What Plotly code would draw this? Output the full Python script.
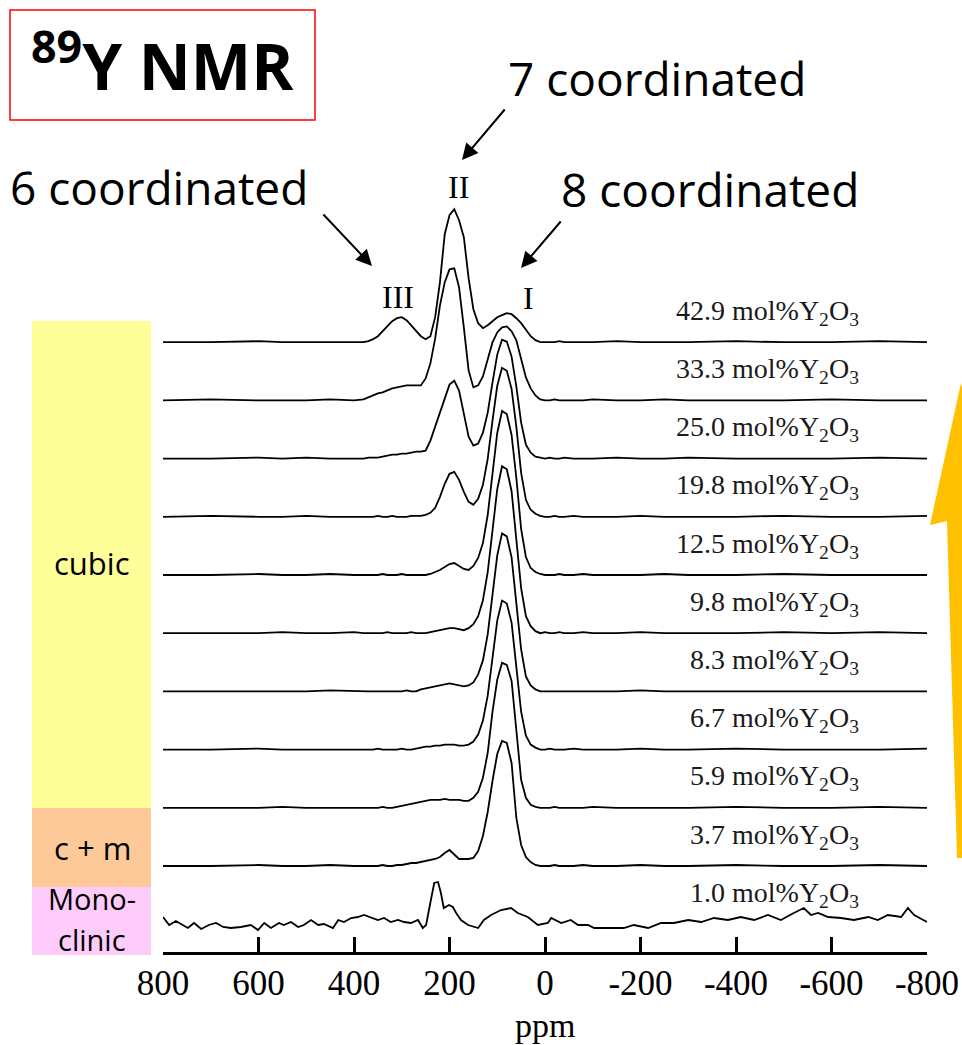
import plotly.graph_objects as go

# ---------------- data ----------------
PPM = [800, 700, 600, 550, 500, 450, 400, 380, 370,
       360, 350, 340, 330, 320, 310, 300, 290, 280, 270, 260, 250,
       240, 230, 220, 210, 200, 190, 180, 170, 160, 150, 140, 130, 120, 110,
       100, 90, 80, 70, 60, 50, 40, 30, 20, 10,
       0, -10, -20, -30, -40,
       -60, -80, -100, -150, -200, -250, -300, -400, -500, -600, -700, -800]

Y_42_9 = [0, 0, 1, 0, 0, 0, 0, 0, 1,
          3, 6, 11, 16, 21, 24, 25, 22, 17, 11, 6, 3,
          6, 25, 60, 108, 127, 133, 122, 105, 64, 33, 19, 14, 17, 21, 25, 27, 29, 28, 24, 19, 13, 6, 2, 0,
          0, 0, 0, 1, 0,
          0, 0, 0, 1, 0, 0, 0, 1, 0, 0, 1, 0]
Y_33_3 = [0, 1, 0, 0, 0, 1, 0, 1, 3,
          5, 7, 8, 10, 12, 13, 14, 15, 15, 15, 15, 22,
          37, 62, 95, 118, 131, 132, 113, 73, 30, 13, 15, 24, 40, 58, 68, 73, 74, 69, 60, 42, 23, 12, 5, 1,
          0, 0, 1, 0, 0,
          0, 0, 1, 0, 0, 1, 0, 0, 0, 1, 0, 0]
Y_25_0 = [0, 0, 1, 0, 1, 0, 0, 0, 1,
          1, 1, 2, 3, 4, 4, 5, 5, 6, 7, 7, 8,
          18, 32, 47, 62, 74, 78, 68, 45, 22, 13, 15, 26, 46, 76, 104, 119, 117, 102, 72, 36, 14, 6, 2, 1,
          0, 1, 0, 0, 1,
          0, 0, 0, 1, 0, 0, 1, 0, 0, 0, 1, 0]
Y_19_8 = [0, 1, 0, 0, 1, 0, 0, 0, 0,
          0, 1, 0, 0, 1, 0, 0, 0, 1, 1, 1, 2,
          4, 9, 20, 33, 43, 45, 37, 25, 15, 12, 18, 32, 58, 96, 131, 149, 146, 128, 90, 44, 17, 7, 3, 1,
          0, 0, 1, 0, 0,
          1, 0, 0, 0, 1, 0, 0, 0, 1, 0, 0, 1]
Y_12_5 = [0, 0, 1, 0, 0, 1, 0, 0, 0,
          0, 0, 1, 0, 0, 0, 1, 0, 0, 0, 0, 0,
          1, 3, 5, 8, 11, 12, 9, 6, 5, 9, 17, 32, 60, 102, 142, 164, 161, 140, 97, 46, 18, 7, 3, 1,
          0, 0, 0, 1, 0,
          0, 1, 0, 0, 0, 1, 0, 0, 1, 0, 0, 0]
Y_9_8 = [0, 0, 0, 1, 0, 0, 1, 0, 0,
         0, 0, 0, 1, 0, 0, 0, 0, 1, 0, 0, 0,
         1, 2, 3, 4, 5, 5, 4, 3, 5, 9, 17, 33, 61, 104, 144, 167, 164, 142, 97, 45, 17, 7, 2, 0,
         1, 0, 0, 1, 0,
         0, 1, 0, 0, 1, 0, 0, 0, 1, 0, 1, 0]
Y_8_3 = [0, 0, 0, 0, 0, 1, 0, 0, 0,
         0, 0, 0, 0, 0, 0, 0, 1, 0, 0, 2, 3,
         4, 5, 6, 7, 8, 7, 6, 5, 6, 9, 17, 31, 57, 98, 136, 158, 155, 134, 90, 42, 15, 6, 2, 0,
         0, 0, 0, 0, 0,
         0, 0, 0, 0, 1, 0, 0, 0, 0, 0, 0, 0]
Y_6_7 = [0, 0, 1, 0, 0, 0, 0, 0, 0,
         0, 1, 0, 0, 0, 0, 1, 0, 0, 1, 2, 3,
         3, 4, 4, 5, 5, 5, 4, 4, 5, 8, 15, 29, 54, 93, 129, 149, 146, 127, 84, 38, 14, 5, 2, 0,
         0, 1, 0, 0, 0,
         1, 0, 0, 0, 1, 0, 0, 1, 0, 0, 0, 1]
Y_5_9 = [0, 0, 0, 1, 0, 0, 0, 0, 0,
         0, 0, 1, 0, 0, 1, 2, 3, 4, 5, 6, 7,
         8, 8, 8, 9, 8, 8, 8, 7, 7, 10, 16, 30, 55, 96, 128, 145, 143, 127, 78, 28, 10, 3, 1, 0,
         0, 0, 1, 0, 0,
         0, 0, 1, 0, 0, 0, 0, 1, 0, 0, 1, 0]
Y_3_7 = [0, 0, 1, 0, 0, 1, 0, 0, 0,
         0, 0, 1, 0, 0, 1, 1, 2, 3, 3, 4, 5,
         6, 7, 9, 13, 16, 11, 7, 7, 7, 8, 15, 30, 54, 85, 112, 125, 123, 103, 48, 21, 9, 4, 1, 0,
         0, 0, 1, 0, 0,
         0, 1, 0, 0, 1, 0, 0, 1, 0, 0, 1, 0]

PPM_1_0 = [800, 787, 773, 758, 748, 735, 720, 704, 689, 674,
           658, 637, 616, 601, 588, 574, 557, 547, 532, 517,
           505, 490, 475, 463, 444, 433, 421, 406, 392, 379,
           364, 350, 337, 323, 308, 295, 281, 266, 256, 249,
           239, 232, 224, 218, 212, 201, 193, 186, 176, 161,
           140, 128, 113, 92, 71, 57, 36, 15, -6, -13,
           -34, -54, -69, -90, -103, -132, -165, -186, -216, -243,
           -270, -300, -327, -354, -383, -410, -438, -467, -494, -521,
           -542, -557, -572, -593, -620, -647, -677, -697, -718, -746,
           -760, -773, -794, -800]
Y_1_0 = [7, -1, 3, -1, -4, 1, -5, -1, 1, -3,
         -4, -3, -1, -6, 1, -4, 1, -1, 2, -3,
         -1, 4, -1, 0, -4, 4, 2, 6, 7, 9,
         6, 4, 6, 2, 4, 2, 1, 4, -4, -1,
         24, 41, 42, 31, 16, 19, 17, 11, 4, -1,
         -4, 4, 9, 14, 16, 11, 7, -1, 1, 6,
         1, 4, -1, -1, -4, -4, -4, -1, -4, 1,
         1, 4, 2, 6, 4, 7, 4, 9, 4, 11,
         16, 9, 11, 7, 6, 4, 7, 4, 9, 7,
         16, 9, 4, 2]

LABELS = ["1.0", "3.7", "5.9", "6.7", "8.3", "9.8", "12.5", "19.8", "25.0", "33.3", "42.9"]
SERIES = [Y_3_7, Y_5_9, Y_6_7, Y_8_3, Y_9_8, Y_12_5, Y_19_8, Y_25_0, Y_33_3, Y_42_9]

TICK_VALS = [800, 600, 400, 200, 0, -200, -400, -600, -800]
TICK_TEXT = ["800", "600", "400", "200", "0", "-200", "-400", "-600", "-800"]

# ---------------- layout geometry ----------------
W, H = 962, 1045
ML, MR, MT, MB = 163, 35, 0, 93
PW, PH = W - ML - MR, H - MT - MB


def paper(px, py):
    return (px - ML) / PW, (MT + PH - py) / PH


BASE_1_0 = 28
BASE0 = 86
STEP = 58.2
offsets = [BASE_1_0] + [BASE0 + STEP * i for i in range(len(SERIES))]

fig = go.Figure()
LINE = dict(color="black", width=1.8)
fig.add_trace(go.Scatter(x=PPM_1_0, y=[v + offsets[0] for v in Y_1_0], mode="lines",
                         line=LINE, hoverinfo="skip"))
for i, ser in enumerate(SERIES):
    off = offsets[i + 1]
    fig.add_trace(go.Scatter(x=PPM, y=[v + off for v in ser], mode="lines",
                             line=LINE, hoverinfo="skip"))

ann = []
# composition labels
for lab, off in zip(LABELS, offsets):
    ann.append(dict(x=-662, y=off + 30, xref="x", yref="y", xanchor="right", yanchor="middle",
                    text=f"{lab} mol%Y<sub>2</sub>O<sub>3</sub>", showarrow=False,
                    font=dict(family="Liberation Serif", size=28, color="#1a1a1a")))

SANS = "Open Sans"


def txt(px, py, text, size, family=SANS, color="black", yanchor="middle"):
    x, y = paper(px, py)
    ann.append(dict(x=x, y=y, xref="paper", yref="paper", text=text, showarrow=False,
                    xanchor="center", yanchor=yanchor, borderpad=0,
                    font=dict(family=family, size=size, color=color)))


def arrow(hx, hy, tx, ty):
    x, y = paper(hx, hy)
    ann.append(dict(x=x, y=y, xref="paper", yref="paper", text="", showarrow=True,
                    ax=tx - hx, ay=ty - hy, axref="pixel", ayref="pixel",
                    arrowhead=2, arrowsize=1.6, arrowwidth=2, arrowcolor="black"))


txt(162, 62, "<b><sup>89</sup>Y NMR</b>", 64)
txt(657, 78, "7 coordinated", 46)
txt(159, 187, "6 coordinated", 46)
txt(710, 189, "8 coordinated", 46)
txt(398, 297, "III", 32, family="Liberation Serif")
txt(458, 187, "II", 32, family="Liberation Serif")
txt(528, 298, "I", 32, family="Liberation Serif")
arrow(462, 160, 506, 108)
arrow(372, 266, 322, 213)
arrow(521, 268, 562, 220)

txt(92, 563, "cubic", 31)
txt(92, 848, "c + m", 31)
txt(92, 919, "Mono-", 29, yanchor="bottom")
txt(92, 919, "clinic", 29, yanchor="top")

# axis title
ann.append(dict(x=0, y=paper(0, 1025)[1], xref="x", yref="paper", text="ppm", showarrow=False,
                xanchor="center", yanchor="middle",
                font=dict(family="Liberation Serif", size=34, color="black")))

shapes = []


def rect(x0, y0, x1, y1, fill=None, line=None):
    a, b = paper(x0, y1)
    c, d = paper(x1, y0)
    shapes.append(dict(type="rect", xref="paper", yref="paper", x0=a, y0=b, x1=c, y1=d,
                       fillcolor=fill or "rgba(0,0,0,0)", line=line or dict(width=0),
                       layer="below"))


rect(32, 321, 151, 808, fill="#FFFF99")
rect(32, 808, 151, 887, fill="#FDC998")
rect(32, 887, 151, 955, fill="#FDCCFB")
rect(10, 10, 315, 120, line=dict(color="red", width=1.5))

pts = [(961, 383), (930, 525), (947, 521), (957, 858), (965, 858), (975, 521), (992, 525)]
path = "M " + " L ".join(f"{paper(px, py)[0]:.5f},{paper(px, py)[1]:.5f}" for px, py in pts) + " Z"
shapes.append(dict(type="path", xref="paper", yref="paper", path=path,
                   fillcolor="#FFC000", line=dict(width=0), layer="below"))

fig.update_layout(
    width=W, height=H, margin=dict(l=ML, r=MR, t=MT, b=MB),
    paper_bgcolor="white", plot_bgcolor="white", showlegend=False,
    annotations=ann, shapes=shapes,
    xaxis=dict(range=[800, -800], tickvals=TICK_VALS, ticktext=TICK_TEXT,
               ticks="inside", ticklen=15, tickwidth=3, tickcolor="black",
               showline=True, linewidth=3, linecolor="black",
               showgrid=False, zeroline=False, ticklabelstandoff=-2,
               tickfont=dict(family="Liberation Serif", size=35, color="black")),
    yaxis=dict(range=[0, PH], visible=False, showgrid=False, zeroline=False),
)

fig.write_html("out.html")
